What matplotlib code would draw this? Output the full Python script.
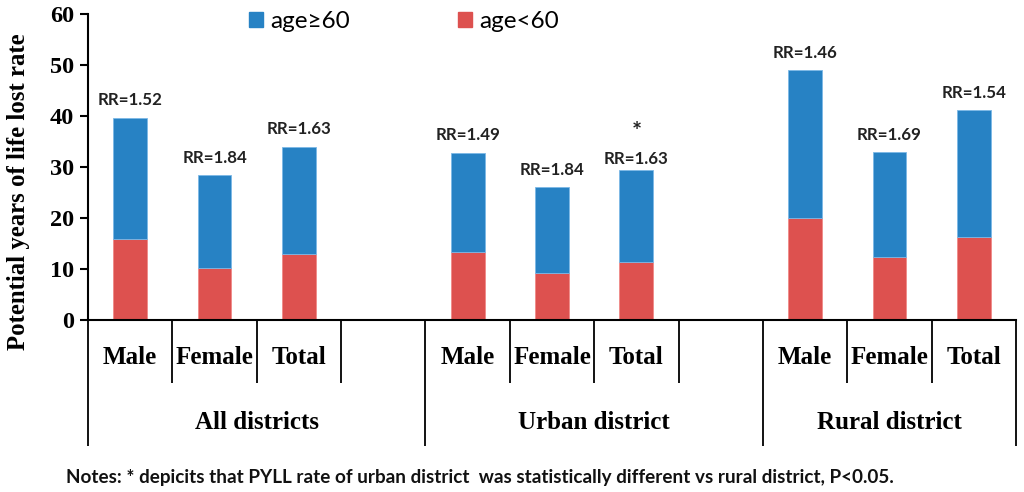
import matplotlib
matplotlib.use("Agg")
import matplotlib.pyplot as plt
from matplotlib.patches import Patch

groups = ["All districts", "Urban district", "Rural district"]
subs = ["Male", "Female", "Total"]
young = [15.8, 10.1, 13.0, 13.3, 9.2, 11.3, 20.0, 12.4, 16.2]      # age<60
total = [39.7, 28.4, 34.0, 32.8, 26.1, 29.4, 49.0, 32.9, 41.1]     # bar top
old = [t - y for t, y in zip(total, young)]                         # age>=60
rr = ["RR=1.52", "RR=1.84", "RR=1.63", "RR=1.49", "RR=1.84", "RR=1.63",
      "RR=1.46", "RR=1.69", "RR=1.54"]
star = [False, False, False, False, False, True, False, False, False]
yticks = [0, 10, 20, 30, 40, 50, 60]

blue = "#2782C4"
red = "#DD514F"
serif = ["Liberation Serif", "DejaVu Serif"]
sans = ["Lato", "DejaVu Sans"]

fig = plt.figure(figsize=(10.24, 4.92), dpi=100)
ax = fig.add_axes([88/1024, 1-320/492, (1016-88)/1024, 306/492])

# slot positions: 4 slots per group, last group has 3
xpos = [g*4 + s + 0.5 for g in range(3) for s in range(3)]
ax.bar(xpos, young, width=0.4, color=red, edgecolor="#F08A88", linewidth=0.6, zorder=2)
ax.bar(xpos, old, bottom=young, width=0.4, color=blue, edgecolor="#7CB8E6", linewidth=0.6, zorder=2)

for x, t, lab, st in zip(xpos, total, rr, star):
    ax.text(x, t + (2.1 if st else 3.4), lab, ha="center", va="center", fontsize=12.2,
            fontweight="bold", family=sans, color="#222222")
    if st:
        ax.text(x, t + 7.3, "*", ha="center", va="center", fontsize=17,
                fontweight="bold", family=sans, color="#222222")

ax.set_xlim(0, 11)
ax.set_ylim(0, 60)
ax.set_yticks(yticks)
ax.set_yticklabels([str(v) for v in yticks], family=serif, fontweight="bold", fontsize=17.5)
ax.tick_params(axis="y", direction="out", length=6, width=1.5, pad=4)
ax.set_xticks([])
for sp in ["top", "right"]:
    ax.spines[sp].set_visible(False)
ax.spines["left"].set_linewidth(1.5)
ax.spines["bottom"].set_linewidth(1.5)

ax.set_ylabel("Potential years of life lost rate", family=serif, fontweight="bold",
              fontsize=17.8)
ax.yaxis.set_label_coords(-0.063, 0.42)

tr = ax.get_xaxis_transform()
short_end = -0.206
long_end = -0.412
for b in range(12):
    xb = min(b, 11)
    is_long = xb in (0, 4, 8, 11)
    ax.plot([xb, xb], [0, long_end if is_long else short_end], transform=tr,
            color="black", lw=1.3, clip_on=False, solid_capstyle="butt")

for x, lab in zip(xpos, subs*3):
    ax.text(x, -0.121, lab, transform=tr, ha="center", va="center",
            family=serif, fontweight="bold", fontsize=18)
gcent = [2, 6, 9.5]
for x, lab in zip(gcent, groups):
    ax.text(x, -0.335, lab, transform=tr, ha="center", va="center",
            family=serif, fontweight="bold", fontsize=18)

handles = [Patch(facecolor=blue, edgecolor=blue, label="age\u226560"),
           Patch(facecolor=red, edgecolor=red, label="age<60")]
leg = ax.legend(handles=handles, ncol=2, loc="center", bbox_to_anchor=(404/1024, 1-22/492),
                bbox_transform=fig.transFigure, frameon=False, prop={"family": sans, "size": 17.5},
                handlelength=0.58, handleheight=0.58, handletextpad=0.3, columnspacing=4.45)

fig.text(480/1024, 1-478/492,
         "Notes: * depicits that PYLL rate of urban district  was statistically different vs rural district, P<0.05.",
         ha="center", va="center", family=sans, fontsize=13.6, fontweight="bold", color="#111111")

fig.savefig("out.png", dpi=100)
